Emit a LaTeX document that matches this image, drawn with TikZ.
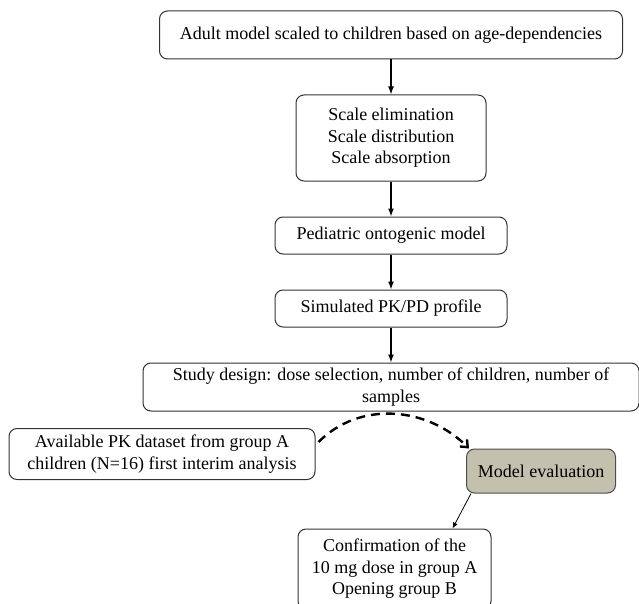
\documentclass[tikz,border=0pt]{standalone}
\usepackage{fontspec}
\setmainfont{Liberation Serif}
\usetikzlibrary{arrows.meta,positioning,calc}
\definecolor{bordC}{HTML}{333333}
\definecolor{evalC}{HTML}{C3C0AE}
\tikzset{
  boite/.style={rectangle, rounded corners=8pt, draw=#1, line width=1pt, fill=white,
               align=center, font=\fontsize{18}{21.5}\selectfont, inner sep=3pt},
  boite/.default=bordC,
  arr/.style={-{Latex[length=8pt,width=6pt]}, line width=1.4pt, draw=black},
  arrfin/.style={-{Latex[length=6pt,width=5pt]}, line width=0.8pt, draw=black},
  arrtiret/.style={-{Straight Barb[length=6pt,width=10pt]}, line width=2.4pt, dash pattern=on 9pt off 6pt},
}
\begin{document}
\begin{tikzpicture}[x=1pt,y=1pt,node distance=35pt]
        \clip (0,0) rectangle (639,-604);
        \node[boite, minimum width=463pt, minimum height=48pt] (adulte) at (391,-35)
          {Adult model scaled to children based on age-dependencies};
        \node[boite, minimum width=190pt, minimum height=86pt, below=of adulte] (echelle)
          {Scale elimination\\Scale distribution\\Scale absorption};
        \node[boite, minimum width=232pt, minimum height=37pt, below=of echelle] (pedia)
          {Pediatric ontogenic model};
        \node[boite, minimum width=232pt, minimum height=37pt, below=of pedia] (simul)
          {Simulated PK/PD profile};
        \node[boite, minimum width=496pt, minimum height=48pt, below=of simul] (etude)
          {Study design: dose selection, number of children, number of\\samples};
        \node[boite, minimum width=306pt, minimum height=51pt] (donnees) at (162,-454)
          {Available PK dataset from group A\\children (N=16) first interim analysis};
        \node[boite=black!70, fill=evalC, minimum width=149pt, minimum height=44pt] (evaluation) at (541,-471)
          {Model evaluation};
        \node[boite, minimum width=193pt, minimum height=80pt] (confirm) at (394.5,-569)
          {Confirmation of the\\10 mg dose in group A\\Opening group B};
        \draw[arr] (adulte) -- (echelle); \draw[arr] (echelle) -- (pedia);
        \draw[arr] (pedia) -- (simul); \draw[arr] (simul) -- (etude);
        \draw[arrtiret] ([shift={(3pt,12pt)}]donnees.east) to[out=45,in=135] ([xshift=3pt]evaluation.north west);
        \draw[arrfin] ([xshift=5pt]evaluation.south west) -- ([xshift=58pt]confirm.north);
      \end{tikzpicture}
\end{document}
